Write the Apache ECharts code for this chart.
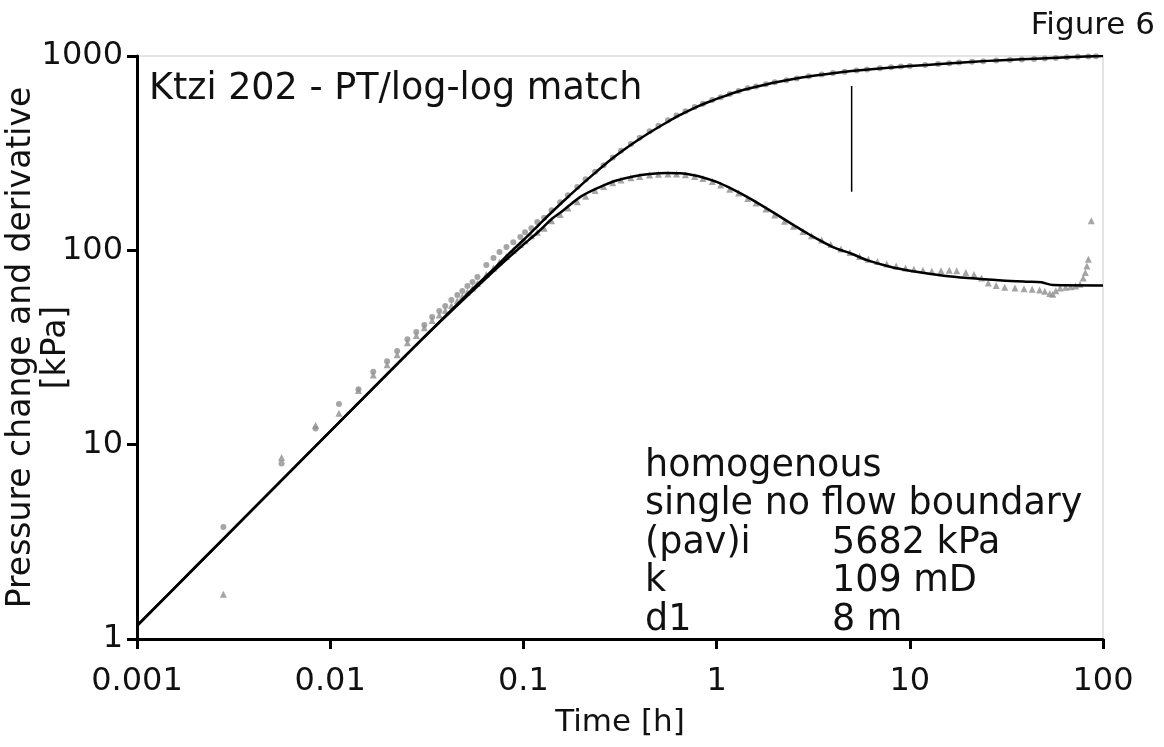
<!DOCTYPE html>
<html>
<head>
<meta charset="utf-8">
<script src="https://cdn.jsdelivr.net/npm/echarts@6/dist/echarts.min.js"></script>
<style>
html,body{margin:0;padding:0;background:#fff;}
#chart{width:1164px;height:747px;}
</style>
</head>
<body>
<div id="chart"></div>
<script>
// ---- Data ----
const xTickLabels = ['0.001', '0.01', '0.1', '1', '10', '100'];
const yTickLabels = ['1', '10', '100', '1000'];

// measured pressure change [kPa]
const pressT = [0.0028, 0.0056, 0.0084, 0.0111, 0.014, 0.0167, 0.0197, 0.0222, 0.0251, 0.0279, 0.0307, 0.0337, 0.0367, 0.0394, 0.0424, 0.0455, 0.0483, 0.0513, 0.0545, 0.0578, 0.0643, 0.070, 0.0752, 0.0817, 0.0887, 0.0964, 0.102, 0.110, 0.118,
  0.128, 0.14, 0.155, 0.17, 0.19, 0.21, 0.235, 0.26, 0.29, 0.32, 0.36, 0.4, 0.45, 0.5, 0.56, 0.62, 0.69, 0.77, 0.85, 0.95, 1.05, 1.17, 1.3, 1.45, 1.6, 1.8, 2.0, 2.3, 2.6, 3, 3.5, 4, 4.6, 5.3, 6, 7, 8, 9, 10, 12, 14, 16, 18, 21, 24, 28, 33, 38, 44, 50, 57, 65, 74, 84, 92];
const pressV = [3.77, 8.0, 12.1, 16.2, 19.3, 23.7, 26.9, 30.3, 34.9, 38.0, 41.3, 45.4, 48.8, 51.7, 55.5, 58.9, 61.8, 65.5, 68.7, 72.9, 84, 91.2, 98, 104, 110, 117, 124, 130, 140,
  147, 161, 177, 192, 212, 232, 254, 274, 300, 325, 353, 380, 410, 438, 467, 494, 520, 546, 568, 593, 614, 637, 660, 682, 696, 715, 733, 751, 767, 787, 803, 817, 829, 842, 852, 864, 874, 882, 888, 900, 910, 918, 925, 933, 940, 947, 954, 960, 966, 972, 978, 984, 990, 995, 998];

// measured pressure derivative [kPa]
const derivT = [0.0028, 0.0056, 0.0084, 0.0111, 0.014, 0.0167, 0.0197, 0.0222, 0.0251, 0.0279, 0.0307, 0.0337, 0.0367, 0.0394, 0.0424, 0.0455, 0.0483, 0.0513, 0.0545, 0.0578, 0.0643, 0.070, 0.0752, 0.0817, 0.0887, 0.0964, 0.102, 0.110, 0.118,
  0.128, 0.14, 0.155, 0.17, 0.19, 0.21, 0.235, 0.26, 0.29, 0.32, 0.36, 0.4, 0.45, 0.5, 0.56, 0.62, 0.69, 0.77, 0.85, 0.95, 1.05, 1.17, 1.3, 1.45, 1.6, 1.8, 2.0, 2.25, 2.5, 2.8, 3.1, 3.5, 3.9, 4.4, 4.9, 5.5, 6.1, 6.8, 7.6, 8.5, 9.5, 10.5, 11.7, 13, 14.5, 16, 17.5, 19.5, 21.5, 23.5, 25.5, 28, 31, 35, 39, 43, 47, 50, 53, 55, 57, 60, 64, 68, 72, 76, 79, 81, 82.5, 84, 87];
const derivV = [1.70, 8.6, 12.6, 14.5, 19.0, 22.8, 25.8, 29, 33.5, 36.5, 40, 43.5, 46.5, 49, 52, 55, 58, 61, 64, 67.5, 75, 81, 87, 93, 100, 107, 112, 119, 124,
  130, 142, 153, 165, 178, 190, 203, 213, 223, 230, 236, 240, 244, 246, 247, 247, 245, 240, 234, 226, 217, 206, 197, 185, 175, 163, 152, 141, 133, 125, 119, 113, 107, 101.5, 97.5, 93, 90, 87.5, 85, 83, 81, 80, 79, 78, 78.5, 79, 78.5, 77, 75, 72, 68, 66, 64.5, 64, 63.5, 63, 62.5, 61.5, 60, 59.5, 62, 64, 64.5, 65, 65.5, 67, 72, 77, 83, 90, 142];

// model: pressure change
const modelPT = [0.001, 0.002, 0.005, 0.01, 0.02, 0.03, 0.05, 0.07, 0.085, 0.1, 0.12, 0.14, 0.17, 0.2, 0.24, 0.28, 0.33, 0.38, 0.44, 0.5, 0.56, 0.63, 0.71, 0.8, 0.9, 1.0, 1.1, 1.22, 1.4, 1.69, 2, 2.5, 3, 4, 5, 7, 10, 15, 21.5, 30, 48, 70, 100];
const modelPV = [1.17, 2.34, 5.85, 11.7, 23.4, 35, 58, 80, 97, 113, 135, 157, 188, 218, 255, 290, 328, 362, 398, 430, 459, 490, 520, 550, 578, 602, 622, 645, 672, 703, 730, 762, 785, 815, 836, 863, 887, 913, 935, 952, 972, 988, 1000];

// model: derivative
const modelDT = [0.001, 0.002, 0.005, 0.01, 0.02, 0.03, 0.05, 0.07, 0.085, 0.1, 0.12, 0.14, 0.16, 0.2, 0.25, 0.3, 0.37, 0.45, 0.55, 0.65, 0.75, 0.85, 1.0, 1.2, 1.5, 2, 2.5, 3, 4, 5, 6, 8, 10, 15, 20, 30, 40, 48, 55, 100];
const modelDV = [1.17, 2.34, 5.85, 11.7, 23.4, 35, 57, 78, 93, 107, 125, 145, 160, 190, 212, 228, 240, 247, 250, 249, 244, 237, 225, 207, 184, 155, 135, 121, 104, 96, 89, 82, 78.5, 74, 72, 70, 69, 68.5, 66.3, 66];

// vertical marker
const markerT = [5, 5];
const markerV = [200, 700];

// texts
const titleText = 'Ktzi 202 - PT/log-log match';
const figureText = 'Figure 6';
const annoLabels = ['homogenous', 'single no flow boundary', '(pav)i', 'k', 'd1'];
const annoValues = ['', '', '5682 kPa', '109 mD', '8 m'];

const zip = (a, b) => a.map((v, i) => [v, b[i]]);
const FONT = 'DejaVu Sans';
const GRAY = '#8e8e8e';

const chart = echarts.init(document.getElementById('chart'), null, {renderer: 'canvas'});

const annoGraphics = [];
annoLabels.forEach((t, i) => {
  annoGraphics.push({type: 'text', left: 645, top: 448 + i * 38.5,
    style: {text: t, fontFamily: FONT, fontSize: 36.5, fill: '#111'}});
  if (annoValues[i]) {
    annoGraphics.push({type: 'text', left: 832, top: 448 + i * 38.5,
      style: {text: annoValues[i], fontFamily: FONT, fontSize: 36.5, fill: '#111'}});
  }
});

const option = {
  backgroundColor: '#fff',
  animation: false,
  textStyle: {fontFamily: FONT},
  grid: {left: 137, right: 61, top: 56, bottom: 108, show: true, borderColor: '#dcdcdc', borderWidth: 1.5,
    containLabel: false, outerBoundsMode: 'none'},
  xAxis: {
    type: 'log', logBase: 10, min: 0.001, max: 100,
    name: 'Time [h]', nameLocation: 'middle', nameGap: 68, nameMoveOverlap: false,
    nameTextStyle: {fontFamily: FONT, fontSize: 31, color: '#111'},
    axisLine: {show: true, onZero: false, lineStyle: {color: '#000', width: 3}},
    axisTick: {show: true, inside: false, length: 10, lineStyle: {color: '#000', width: 3}},
    minorTick: {show: false},
    splitLine: {show: false},
    axisLabel: {
      show: true, color: '#111', fontFamily: FONT, fontSize: 32, margin: 27,
      showMinLabel: true, showMaxLabel: true, hideOverlap: false,
      formatter: v => xTickLabels[Math.round(Math.log10(v)) + 3]
    }
  },
  yAxis: {
    type: 'log', logBase: 10, min: 1, max: 1000,
    name: 'Pressure change and derivative\n[kPa]', nameLocation: 'middle', nameGap: 63, nameMoveOverlap: false,
    nameTextStyle: {fontFamily: FONT, fontSize: 33, color: '#111', lineHeight: 35},
    axisLine: {show: true, onZero: false, lineStyle: {color: '#000', width: 3}},
    axisTick: {show: true, inside: false, length: 10, lineStyle: {color: '#000', width: 3}},
    minorTick: {show: false},
    splitLine: {show: false},
    axisLabel: {
      show: true, color: '#111', fontFamily: FONT, fontSize: 32, margin: 14,
      showMinLabel: true, showMaxLabel: true, hideOverlap: false,
      formatter: v => yTickLabels[Math.round(Math.log10(v))]
    }
  },
  series: [
    {name: 'pressure data', type: 'scatter', data: zip(pressT, pressV), symbol: 'circle', symbolSize: 6,
      itemStyle: {color: GRAY}, z: 2, silent: true},
    {name: 'derivative data', type: 'scatter', data: zip(derivT, derivV), symbol: 'triangle', symbolSize: 7,
      itemStyle: {color: GRAY}, z: 2, silent: true},
    {name: 'pressure model', type: 'line', data: zip(modelPT, modelPV), showSymbol: false, smooth: 0.3,
      lineStyle: {color: '#000', width: 2.5}, z: 5, silent: true},
    {name: 'derivative model', type: 'line', data: zip(modelDT, modelDV), showSymbol: false, smooth: 0.3,
      lineStyle: {color: '#000', width: 2.5}, z: 5, silent: true},
    {name: 'marker', type: 'line', data: zip(markerT, markerV), showSymbol: false,
      lineStyle: {color: '#000', width: 1.5}, z: 5, silent: true}
  ],
  graphic: [
    {type: 'text', right: 9, top: 10, style: {text: figureText, fontFamily: FONT, fontSize: 31, fill: '#111'}},
    {type: 'text', left: 149, top: 71, style: {text: titleText, fontFamily: FONT, fontSize: 36.5, fill: '#111'}},
    ...annoGraphics
  ]
};
chart.setOption(option);
</script>
</body>
</html>
